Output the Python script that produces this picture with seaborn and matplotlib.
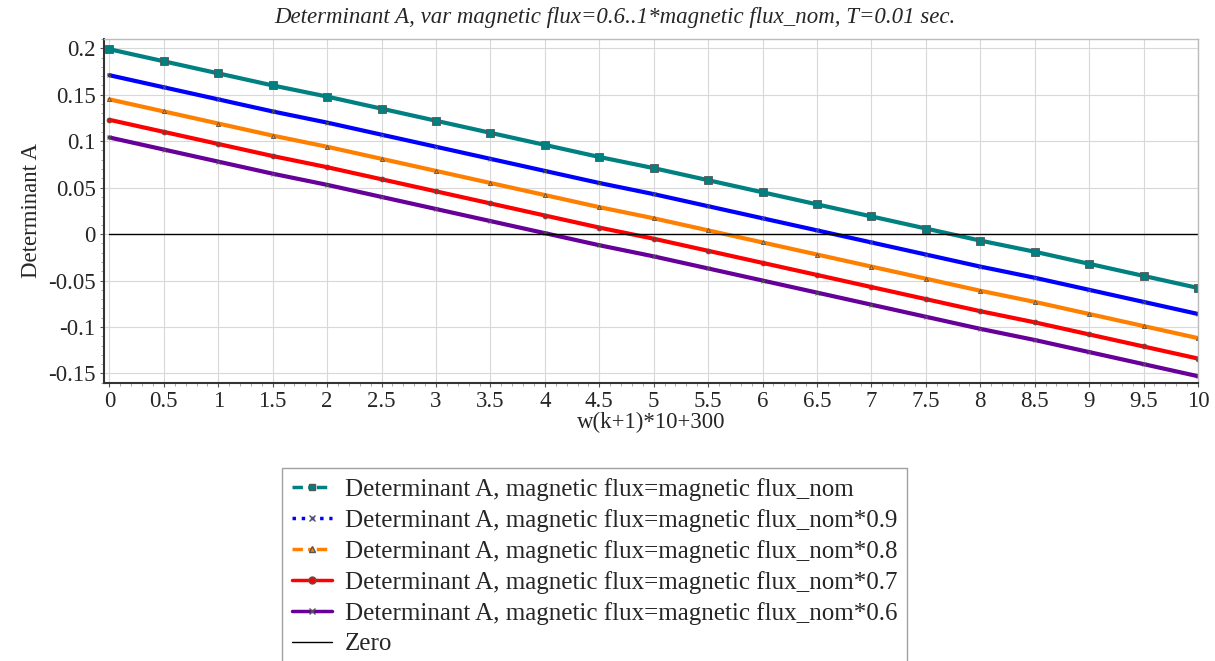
import matplotlib
matplotlib.use("Agg")
import matplotlib.pyplot as plt
import seaborn as sns
import pandas as pd
from matplotlib.lines import Line2D
from matplotlib.ticker import MultipleLocator

# Dane
x = [0, 0.5, 1, 1.5, 2, 2.5, 3, 3.5, 4, 4.5, 5, 5.5, 6, 6.5, 7, 7.5, 8, 8.5, 9, 9.5, 10]
flux_nom = [0.199, 0.186, 0.173, 0.160, 0.148, 0.135, 0.122, 0.109, 0.096, 0.083, 0.071,
            0.058, 0.045, 0.032, 0.019, 0.006, -0.007, -0.019, -0.032, -0.045, -0.058]
flux_09 = [0.171, 0.158, 0.145, 0.132, 0.120, 0.107, 0.094, 0.081, 0.068, 0.055, 0.043,
           0.030, 0.017, 0.004, -0.009, -0.022, -0.035, -0.047, -0.060, -0.073, -0.086]
flux_08 = [0.145, 0.132, 0.119, 0.106, 0.094, 0.081, 0.068, 0.055, 0.042, 0.029, 0.017,
           0.004, -0.009, -0.022, -0.035, -0.048, -0.061, -0.073, -0.086, -0.099, -0.112]
flux_07 = [0.123, 0.110, 0.097, 0.084, 0.072, 0.059, 0.046, 0.033, 0.020, 0.007, -0.005,
           -0.018, -0.031, -0.044, -0.057, -0.070, -0.083, -0.095, -0.108, -0.121, -0.134]
flux_06 = [0.104, 0.091, 0.078, 0.065, 0.053, 0.040, 0.027, 0.014, 0.001, -0.012, -0.024,
           -0.037, -0.050, -0.063, -0.076, -0.089, -0.102, -0.114, -0.127, -0.140, -0.153]
zero = [0] * len(x)

x_ticks = [0, 0.5, 1, 1.5, 2, 2.5, 3, 3.5, 4, 4.5, 5, 5.5, 6, 6.5, 7, 7.5, 8, 8.5, 9, 9.5, 10]
x_ticklabels = ["0", "0.5", "1", "1.5", "2", "2.5", "3", "3.5", "4", "4.5", "5",
                "5.5", "6", "6.5", "7", "7.5", "8", "8.5", "9", "9.5", "10"]
y_ticks = [-0.15, -0.1, -0.05, 0, 0.05, 0.1, 0.15, 0.2]
y_ticklabels = ["-0.15", "-0.1", "-0.05", "0", "0.05", "0.1", "0.15", "0.2"]

labels = [
    "Determinant A, magnetic flux=magnetic flux_nom",
    "Determinant A, magnetic flux=magnetic flux_nom*0.9",
    "Determinant A, magnetic flux=magnetic flux_nom*0.8",
    "Determinant A, magnetic flux=magnetic flux_nom*0.7",
    "Determinant A, magnetic flux=magnetic flux_nom*0.6",
    "Zero",
]
series = [flux_nom, flux_09, flux_08, flux_07, flux_06]
colors = ["#008080", "#0000ff", "#ff8000", "#ff0000", "#660099"]
markers = ["s", "x", "^", "o", "x"]
styles = [(0, (3, 1.5, 1, 1.5)), ":", (0, (3, 1.5, 1, 1.5)), "-", "-"]
msizes = [5.5, 3, 3, 3.5, 3]

sns.set_style("white")
plt.rcParams["font.family"] = ["Liberation Serif", "DejaVu Serif"]

fig = plt.figure(figsize=(12.15, 6.61), dpi=100)
ax = fig.add_axes([0.0856, 0.421, 0.9004, 0.52])

for vals, c, m, ms in zip(series, colors, markers, msizes):
    df = pd.DataFrame({"x": x, "y": vals})
    sns.lineplot(data=df, x="x", y="y", ax=ax, color=c, lw=3, marker=m, ms=ms,
                 markeredgecolor="#555555", markeredgewidth=0.6)

sns.lineplot(x=x, y=zero, ax=ax, color="black", lw=1)

ax.set_xlim(-0.05, 10)
ax.set_ylim(-0.16, 0.21)
ax.xaxis.set_minor_locator(MultipleLocator(0.1))
ax.yaxis.set_minor_locator(MultipleLocator(0.01))
ax.set_xticks(x_ticks)
ax.set_xticklabels(x_ticklabels)
ax.set_yticks(y_ticks)
ax.set_yticklabels(y_ticklabels)
ax.tick_params(axis="both", which="major", labelsize=16.5, length=3, color="#555555",
               direction="out", pad=3)
ax.tick_params(axis="both", which="minor", length=2, color="#999999", direction="out")
ax.tick_params(bottom=True, left=True, which="both")
ax.grid(True, which="major", color="#d8d8d8", lw=0.8)

for s in ["left", "bottom"]:
    ax.spines[s].set_color("#333333")
    ax.spines[s].set_linewidth(1.5)
for s in ["top", "right"]:
    ax.spines[s].set_color("#bbbbbb")
    ax.spines[s].set_linewidth(1)

ax.set_xlabel("w(k+1)*10+300", fontsize=16.5, labelpad=0)
ax.set_ylabel("Determinant A", fontsize=16.5, labelpad=4)
fig.text(0.506, 0.973, "Determinant A, var magnetic flux=0.6..1*magnetic flux_nom, T=0.01 sec.",
         fontsize=16.5, style="italic", ha="center", va="center")

handles = [Line2D([], [], color=c, ls=ls, lw=2.5, marker=m, ms=5, markeredgecolor="#555555")
           for c, ls, m in zip(colors, styles, markers)]
handles.append(Line2D([], [], color="black", lw=1))
leg = fig.legend(handles, labels, loc="upper left", bbox_to_anchor=(0.2325, 0.292),
                 fontsize=18, frameon=True, fancybox=False, handlelength=1.6,
                 borderaxespad=0, labelspacing=0.32, handletextpad=0.5, borderpad=0.4)
leg.get_frame().set_edgecolor("#888888")
leg.get_frame().set_linewidth(1)

fig.savefig("out.png", dpi=100)
